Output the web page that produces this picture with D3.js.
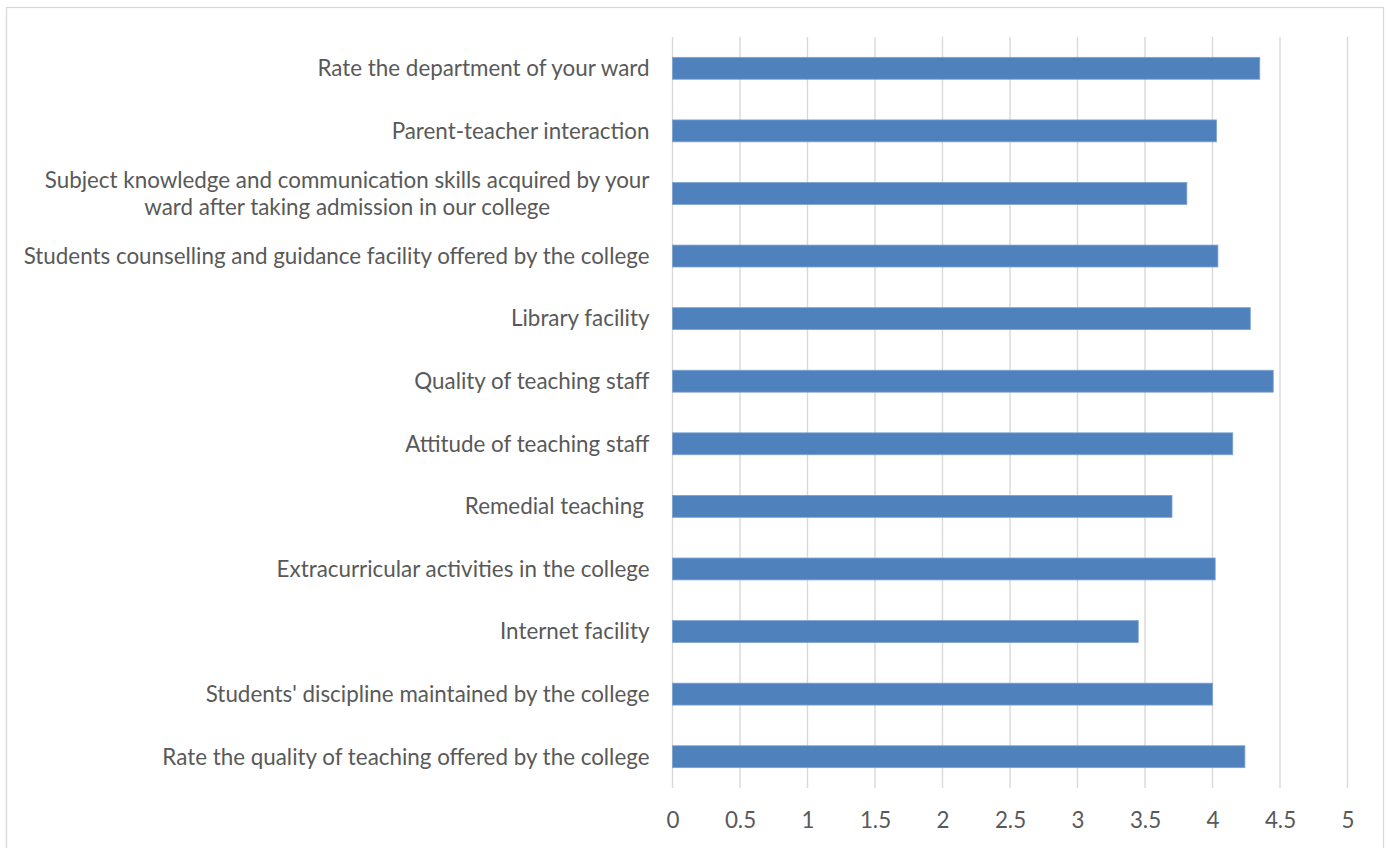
<!DOCTYPE html>
<html>
<head>
<meta charset="utf-8">
<script src="https://cdn.jsdelivr.net/npm/d3@7"></script>
<style>
  html, body { margin: 0; padding: 0; background: #fff; }
  svg { display: block; }
</style>
</head>
<body>
<svg id="chart" width="1388" height="848"></svg>
<script>
// categories, top to bottom
let categories = [
	'Rate the department of your ward',
	'Parent-teacher interaction',
	'Subject knowledge and communication skills acquired by your\nward after taking admission in our college',
	'Students counselling and guidance facility offered by the college',
	'Library facility',
	'Quality of teaching staff',
	'Attitude of teaching staff',
	'Remedial teaching ',
	'Extracurricular activities in the college',
	'Internet facility',
	"Students' discipline maintained by the college",
	'Rate the quality of teaching offered by the college'
];
let scores = [4.35, 4.03, 3.81, 4.04, 4.28, 4.45, 4.15, 3.70, 4.02, 3.45, 4.00, 4.24];
let xTicks = [0, 0.5, 1, 1.5, 2, 2.5, 3, 3.5, 4, 4.5, 5];

let fontFamily = 'Lato, "Open Sans", sans-serif';
let textColor = '#595959';
let plot = { left: 672.5, right: 1347.5, top: 37, bottom: 788 };
let labelRight = plot.left - 23;

let svg = d3.select('#chart');

// chart border
svg.append('rect')
	.attr('x', 6.5).attr('y', 7.5)
	.attr('width', 1377).attr('height', 860)
	.attr('fill', '#fff')
	.attr('stroke', '#d9d9d9')
	.attr('stroke-width', 1.3);

let x = d3.scaleLinear().domain([0, 5]).range([plot.left, plot.right]);
let y = d3.scaleBand().domain(categories).range([plot.top, plot.bottom]).paddingInner(0.65).paddingOuter(0.325);

// gridlines
svg.append('g')
	.selectAll('line')
	.data(xTicks)
	.join('line')
	.attr('x1', d => x(d)).attr('x2', d => x(d))
	.attr('y1', plot.top).attr('y2', plot.bottom)
	.attr('stroke', '#d9d9d9')
	.attr('stroke-width', 1.4);

// bars
svg.append('g')
	.selectAll('rect')
	.data(scores)
	.join('rect')
	.attr('x', x(0))
	.attr('y', (d, i) => y(categories[i]))
	.attr('width', d => x(d) - x(0))
	.attr('height', y.bandwidth())
	.attr('fill', '#4f81bd')
	.attr('stroke', '#7da2d0')
	.attr('stroke-width', 0.8);

// x axis labels
let xAxis = d3.axisBottom(x).tickValues(xTicks).tickSize(0).tickPadding(0).tickFormat(d3.format('~g'));
let gx = svg.append('g')
	.attr('transform', `translate(0,${plot.bottom + 33})`)
	.call(xAxis);
gx.select('.domain').remove();
gx.selectAll('text')
	.attr('dy', '0.32em')
	.attr('fill', textColor)
	.style('font-family', fontFamily)
	.style('font-size', '18px');

// category labels
let gy = svg.append('g');
let labels = gy.selectAll('text')
	.data(categories)
	.join('text')
	.attr('text-anchor', 'end')
	.attr('fill', textColor)
	.style('font-family', fontFamily)
	.style('font-size', '18px');

labels.each(function (d) {
	let lines = d.split('\n');
	let cy = y(d) + y.bandwidth() / 2;
	let el = d3.select(this);
	lines.forEach((ln, k) => {
		el.append('tspan')
			.attr('x', labelRight)
			.attr('y', cy + (k - (lines.length - 1) / 2) * 27)
			.attr('dy', '0.35em')
			.attr('xml:space', 'preserve')
			.text(ln);
	});
});

// fit font size so the longest label is as wide as in the reference (~626px)
let longest = labels.filter((d, i) => i === 3).node();
let w = longest.getComputedTextLength();
let fs = 18 * 626 / w;
labels.style('font-size', fs + 'px');
gx.selectAll('text').style('font-size', fs + 'px');

// wrapped labels: lines centred on each other, block right-aligned
labels.filter(d => d.includes('\n')).each(function () {
	let spans = d3.select(this).selectAll('tspan');
	let maxW = d3.max(spans.nodes(), n => n.getComputedTextLength());
	d3.select(this).attr('text-anchor', 'middle');
	spans.attr('x', labelRight - maxW / 2);
});
</script>
</body>
</html>
